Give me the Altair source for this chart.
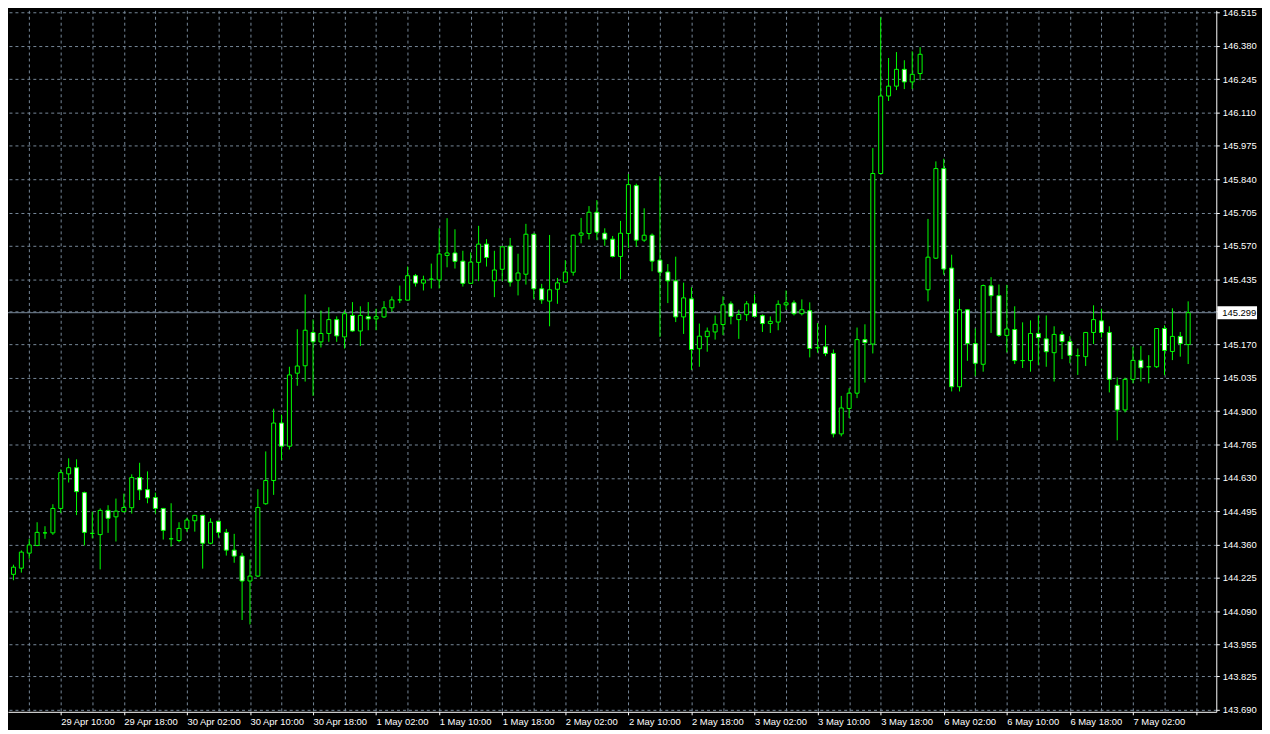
import json
import altair as alt
import pandas as pd

# ---- H1 candles (bar index 0 = 29 Apr 03:00) ----
opens = [
    144.220, 144.239, 144.264, 144.325, 144.356, 144.407, 144.407, 144.506, 144.646, 144.671,
    144.570, 144.405, 144.400, 144.498, 144.472, 144.493, 144.509, 144.631, 144.582, 144.550,
    144.506, 144.383, 144.376, 144.425, 144.456, 144.478, 144.365, 144.454, 144.409, 144.337,
    144.313, 144.212, 144.232, 144.525, 144.619, 144.852, 144.758, 145.054, 145.084, 145.219,
    145.181, 145.215, 145.271, 145.201, 145.288, 145.225, 145.283, 145.274, 145.282, 145.319,
    145.351, 145.350, 145.449, 145.419, 145.435, 145.432, 145.531, 145.541, 145.508, 145.418,
    145.503, 145.577, 145.428, 145.475, 145.569, 145.431, 145.455, 145.617, 145.396, 145.346,
    145.394, 145.423, 145.463, 145.613, 145.620, 145.706, 145.621, 145.597, 145.527, 145.620,
    145.814, 145.593, 145.613, 145.512, 145.464, 145.428, 145.282, 145.355, 145.153, 145.202,
    145.221, 145.251, 145.335, 145.271, 145.291, 145.335, 145.287, 145.255, 145.261, 145.331,
    145.339, 145.295, 145.307, 145.157, 145.161, 145.134, 144.808, 144.911, 144.973, 145.190,
    145.172, 145.863, 146.177, 146.217, 146.285, 146.234, 146.268, 145.392, 145.520, 145.883,
    145.480, 144.999, 145.311, 145.174, 145.090, 145.408, 145.368, 145.207, 145.231, 145.105,
    145.105, 145.215, 145.193, 145.137, 145.211, 145.182, 145.125, 145.121, 145.219, 145.266,
    145.219, 145.005, 144.905, 145.029, 145.106, 145.080, 145.080, 145.235, 145.142, 145.203,
    145.170,
]
highs = [
    144.262, 144.278, 144.336, 144.383, 144.450, 144.434, 144.523, 144.664, 144.709, 144.705,
    144.574, 144.493, 144.506, 144.519, 144.546, 144.566, 144.644, 144.691, 144.656, 144.570,
    144.508, 144.527, 144.450, 144.468, 144.480, 144.480, 144.466, 144.456, 144.423, 144.403,
    144.326, 144.299, 144.584, 144.737, 144.910, 144.886, 145.080, 145.232, 145.373, 145.272,
    145.308, 145.321, 145.284, 145.308, 145.342, 145.325, 145.342, 145.315, 145.346, 145.365,
    145.409, 145.486, 145.456, 145.449, 145.498, 145.641, 145.682, 145.637, 145.550, 145.543,
    145.651, 145.597, 145.550, 145.568, 145.602, 145.538, 145.659, 145.620, 145.416, 145.614,
    145.440, 145.512, 145.615, 145.683, 145.731, 145.755, 145.641, 145.610, 145.671, 145.861,
    145.822, 145.722, 145.620, 145.852, 145.496, 145.526, 145.421, 145.402, 145.255, 145.239,
    145.288, 145.365, 145.345, 145.311, 145.346, 145.373, 145.292, 145.284, 145.349, 145.389,
    145.349, 145.353, 145.341, 145.257, 145.248, 145.150, 144.962, 144.993, 145.239, 145.252,
    145.966, 146.496, 146.331, 146.355, 146.322, 146.358, 146.375, 145.679, 145.912, 145.923,
    145.534, 145.355, 145.313, 145.235, 145.413, 145.443, 145.413, 145.412, 145.325, 145.260,
    145.268, 145.287, 145.288, 145.244, 145.224, 145.204, 145.154, 145.221, 145.329, 145.315,
    145.244, 145.037, 145.036, 145.161, 145.164, 145.127, 145.237, 145.248, 145.317, 145.221,
    145.345,
]
lows = [
    144.175, 144.215, 144.246, 144.302, 144.353, 144.383, 144.399, 144.487, 144.611, 144.479,
    144.356, 144.385, 144.259, 144.407, 144.372, 144.490, 144.485, 144.540, 144.527, 144.485,
    144.380, 144.352, 144.369, 144.412, 144.412, 144.262, 144.361, 144.388, 144.315, 144.286,
    144.054, 144.036, 144.228, 144.521, 144.561, 144.702, 144.745, 145.003, 145.020, 144.962,
    145.158, 145.181, 145.181, 145.154, 145.222, 145.164, 145.228, 145.228, 145.278, 145.303,
    145.338, 145.349, 145.405, 145.389, 145.397, 145.397, 145.483, 145.478, 145.405, 145.416,
    145.427, 145.486, 145.362, 145.427, 145.405, 145.369, 145.413, 145.355, 145.335, 145.244,
    145.335, 145.420, 145.449, 145.580, 145.596, 145.593, 145.570, 145.523, 145.435, 145.561,
    145.566, 145.586, 145.467, 145.201, 145.338, 145.261, 145.213, 145.067, 145.080, 145.141,
    145.190, 145.208, 145.252, 145.193, 145.265, 145.282, 145.221, 145.217, 145.228, 145.311,
    145.288, 145.288, 145.118, 145.137, 145.123, 144.794, 144.798, 144.872, 144.953, 145.016,
    145.134, 145.860, 146.157, 146.201, 146.205, 146.205, 146.241, 145.345, 145.517, 145.453,
    144.980, 144.980, 145.104, 145.043, 145.060, 145.217, 145.201, 145.138, 145.091, 145.075,
    145.060, 145.087, 145.080, 145.020, 145.111, 145.094, 145.047, 145.083, 145.172, 145.198,
    144.976, 144.782, 144.895, 145.013, 145.020, 145.013, 145.075, 145.046, 145.107, 145.121,
    145.091,
]
closes = [
    144.242, 144.268, 144.329, 144.358, 144.409, 144.407, 144.506, 144.651, 144.671, 144.574,
    144.409, 144.405, 144.498, 144.466, 144.495, 144.510, 144.631, 144.581, 144.549, 144.506,
    144.417, 144.383, 144.425, 144.459, 144.478, 144.365, 144.450, 144.409, 144.337, 144.313,
    144.212, 144.232, 144.510, 144.619, 144.852, 144.758, 145.047, 145.083, 145.228, 145.181,
    145.215, 145.271, 145.205, 145.295, 145.225, 145.288, 145.274, 145.283, 145.319, 145.351,
    145.351, 145.449, 145.419, 145.432, 145.435, 145.537, 145.541, 145.507, 145.418, 145.504,
    145.577, 145.523, 145.472, 145.566, 145.423, 145.460, 145.617, 145.396, 145.351, 145.392,
    145.420, 145.464, 145.613, 145.622, 145.706, 145.625, 145.597, 145.527, 145.621, 145.818,
    145.593, 145.613, 145.508, 145.463, 145.428, 145.282, 145.359, 145.150, 145.204, 145.224,
    145.252, 145.331, 145.284, 145.292, 145.335, 145.284, 145.255, 145.264, 145.333, 145.339,
    145.295, 145.311, 145.154, 145.157, 145.134, 144.808, 144.913, 144.973, 145.190, 145.178,
    145.863, 146.177, 146.217, 146.285, 146.234, 146.265, 146.346, 145.524, 145.883, 145.476,
    144.999, 145.311, 145.174, 145.094, 145.409, 145.368, 145.207, 145.233, 145.105, 145.105,
    145.215, 145.198, 145.141, 145.211, 145.182, 145.126, 145.125, 145.219, 145.271, 145.219,
    145.029, 144.905, 145.029, 145.106, 145.076, 145.080, 145.235, 145.146, 145.203, 145.174,
    145.299,
]

x_tick_labels = [
    "29 Apr 02:00", "29 Apr 10:00", "29 Apr 18:00", "30 Apr 02:00", "30 Apr 10:00",
    "30 Apr 18:00", "1 May 02:00", "1 May 10:00", "1 May 18:00", "2 May 02:00",
    "2 May 10:00", "2 May 18:00", "3 May 02:00", "3 May 10:00", "3 May 18:00",
    "6 May 02:00", "6 May 10:00", "6 May 18:00", "7 May 02:00",
]
y_tick_labels = [
    "146.515", "146.380", "146.245", "146.110", "145.975", "145.840", "145.705",
    "145.570", "145.435", "145.170", "145.035", "144.900", "144.765", "144.630",
    "144.495", "144.360", "144.225", "144.090", "143.955", "143.825", "143.690",
]
hidden_grid_price = 145.305   # gridline hidden behind the bid label
first_label_bar = -1          # bar index of the first time label
bars_per_label = 8
bars_per_grid = 4

# ---- styling ----
GREEN = "#00ff00"
GRID = "#778899"
FONT = "Liberation Sans"
FS = 9.5
VIEW_W, VIEW_H = 1216, 706

bid = closes[-1]
df = pd.DataFrame({
    "bar": list(range(len(opens))),
    "open": opens, "high": highs, "low": lows, "close": closes,
})
bid_df = pd.DataFrame({"bid": [bid], "label": [f"{bid:.3f}"]})

n = len(opens)
x_scale = alt.Scale(domain=[0.9375, 0.9375 + VIEW_W / 8], nice=False, zero=False)
y_scale = alt.Scale(domain=[143.682, 146.5243], nice=False, zero=False)

grid_values = list(range(first_label_bar, n + 1, bars_per_grid))
lab_js = json.dumps(x_tick_labels)
off = f"(datum.value - ({first_label_bar}))"
x_label_expr = f"{off} % {bars_per_label} == 0 ? {lab_js}[{off} / {bars_per_label}] : ''"

x_axis = alt.Axis(
    orient="bottom", values=grid_values, labelExpr=x_label_expr, title=None,
    grid=True, gridColor=GRID, gridDash=[3, 3], gridWidth=1,
    domainColor="white", domainWidth=1,
    tickColor="white", tickSize=3,
    tickOpacity={"condition": {"test": f"{off} % {bars_per_label} == 0", "value": 1}, "value": 0},
    labelColor="white", labelFont=FONT, labelFontSize=FS, labelAlign="left",
    labelBaseline="top", labelPadding=2, labelOverlap=False, labelFlush=False,
)

y_values = [float(v) for v in y_tick_labels] + [hidden_grid_price]
y_axis = alt.Axis(
    orient="right", values=y_values, title=None,
    labelExpr=f"datum.value == {hidden_grid_price} ? '' : format(datum.value, '.3f')",
    grid=True, gridColor=GRID, gridDash=[3, 3], gridWidth=1,
    domainColor="white", domainWidth=1, tickColor="white", tickSize=3,
    labelColor="white", labelFont=FONT, labelFontSize=FS, labelPadding=3,
    labelOverlap=False, labelFlush=False,
)

base = alt.Chart(df)

wicks = base.mark_rule(color=GREEN, strokeWidth=1).encode(
    x=alt.X("bar:Q", scale=x_scale, axis=x_axis),
    y=alt.Y("low:Q", scale=y_scale, axis=y_axis),
    y2="high:Q",
)

bid_line = alt.Chart(bid_df).mark_rule(color=GRID, strokeWidth=1).encode(
    y=alt.Y("bid:Q", scale=y_scale, axis=y_axis),
)

bodies = base.mark_bar(size=4, stroke=GREEN, strokeWidth=1).encode(
    x=alt.X("bar:Q", scale=x_scale, axis=x_axis),
    y=alt.Y("open:Q", scale=y_scale, axis=y_axis),
    y2="close:Q",
    fill=alt.condition("datum.close < datum.open", alt.value("white"), alt.value("black")),
)

bid_box = alt.Chart(bid_df).mark_tick(
    orient="horizontal", thickness=13, size=40, color="white", opacity=1
).encode(
    x=alt.value(VIEW_W + 21),
    y=alt.Y("bid:Q", scale=y_scale, axis=y_axis),
)

bid_text = alt.Chart(bid_df).mark_text(
    align="left", baseline="middle", color="black", font=FONT, fontSize=FS
).encode(
    x=alt.value(VIEW_W + 6),
    y=alt.Y("bid:Q", scale=y_scale, axis=y_axis),
    text="label:N",
)

chart = (
    alt.layer(bid_line, wicks, bodies, bid_box, bid_text)
    .properties(
        width=VIEW_W, height=VIEW_H,
        autosize=alt.AutoSizeParams(type="none"),
        padding={"left": 0, "top": 0, "right": 46, "bottom": 16},
        background="black",
    )
    .configure_view(strokeWidth=0)
)

chart.save("out.html", embed_options={"renderer": "svg", "actions": False})
